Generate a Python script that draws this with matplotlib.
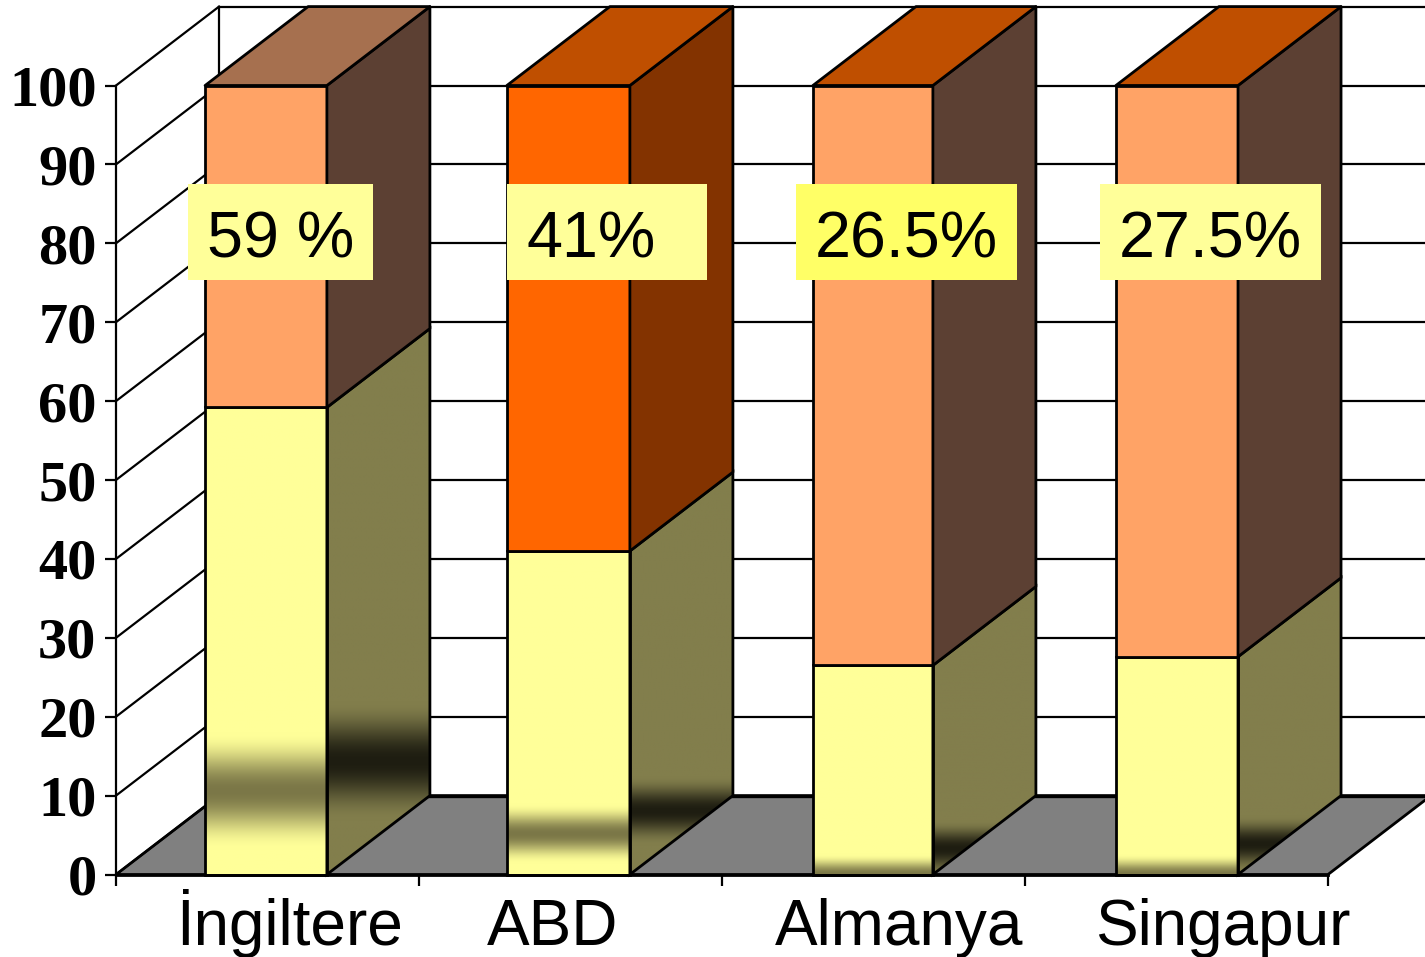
import matplotlib
matplotlib.use('Agg')
import matplotlib.pyplot as plt
from matplotlib.patches import Polygon, Rectangle
import numpy as np

countries = ['İngiltere', 'ABD', 'Almanya', 'Singapur']
share = [59.2, 41.0, 26.5, 27.6]
total = [100, 100, 100, 100]
share_text = ['59 %', '41%', '26.5%', '27.5%']
yticks = list(range(0, 101, 10))

# dark smudges in the yellow part: centre and half height, in axis units
front_band = [(10.6, 7.4), (5.2, 3.8), (0.0, 2.6), (0.0, 2.6)]
side_band = [(14.4, 7.6), (8.1, 4.4), (3.3, 3.6), (3.9, 3.6)]

W, H = 1425, 957
DEPTH_X = 0.34
DEPTH_Y = 10.0

bar_left = [0.294, 1.290, 2.300, 3.300]
bar_right = [0.696, 1.696, 2.696, 3.703]
label_x = [0.574, 1.442, 2.584, 3.653]

upper_front = ['#FFA366', '#FF6600', '#FFA366', '#FFA366']
upper_side = ['#5C4033', '#833300', '#5C4033', '#5C4033']
upper_top = ['#A6704F', '#BF4F00', '#BF4F00', '#BF4F00']
box_color = ['#FFFF99', '#FFFF99', '#FFFF66', '#FFFF99']
box_px = [(188, 373), (507, 707), (796, 1017), (1100, 1321)]
text_px = [207, 527, 815, 1119]

YELLOW = np.array([255, 255, 153]) / 255
YELLOW_DARK = np.array([123, 119, 71]) / 255
OLIVE = np.array([130, 126, 76]) / 255
OLIVE_DARK = np.array([30, 29, 17]) / 255


def gradient(top, band, base, dark):
    y = np.linspace(0, top, 400)
    w = np.clip(1 - np.abs(y - band[0]) / band[1], 0, 1)
    w = (0.5 - 0.5 * np.cos(np.pi * w))[:, None, None]
    return (base * (1 - w) + dark * w)


def face(ax, pts, color, z):
    ax.add_patch(Polygon(pts, closed=True, facecolor=color, edgecolor='black',
                         lw=2.0, joinstyle='round', clip_on=False, zorder=z))


def shaded(ax, fig, pts, extent, img, z):
    im = ax.imshow(img, extent=extent, origin='lower', aspect='auto',
                   interpolation='bilinear', zorder=z)
    clip = Polygon(pts, closed=True, transform=ax.transData)
    im.set_clip_box(fig.bbox)
    im.set_clip_path(clip)
    ax.add_patch(Polygon(pts, closed=True, fill=False, edgecolor='black',
                         lw=2.0, clip_on=False, zorder=z + 0.01))


fig = plt.figure(figsize=(W / 100, H / 100), dpi=100)
ax = fig.add_axes([116 / W, 1 - 874.5 / H, (1328 - 116) / W, (874 - 85) / H])
ax.patch.set_alpha(0)

# floor
ax.add_patch(Polygon([(0, 0), (4, 0), (4 + DEPTH_X, DEPTH_Y), (DEPTH_X, DEPTH_Y)],
                     closed=True, facecolor='#808080', edgecolor='black', lw=2.0,
                     clip_on=False, zorder=1))

# back wall and left wall
for v in yticks:
    ax.plot([DEPTH_X, 4 + DEPTH_X], [v + DEPTH_Y, v + DEPTH_Y], color='black',
            lw=2.4 if v == 0 else 1.6, clip_on=False, zorder=1.1)
    ax.plot([0, DEPTH_X], [v, v + DEPTH_Y], color='black', lw=1.6,
            clip_on=False, zorder=1.1)
ax.plot([DEPTH_X, DEPTH_X], [DEPTH_Y, 100 + DEPTH_Y], color='black', lw=1.6,
        clip_on=False, zorder=1.1)

for i in range(len(countries)):
    x0, x1 = bar_left[i], bar_right[i]
    v = share[i]
    t = total[i]
    z = 2 + i * 0.1
    xb = x1 + DEPTH_X
    # yellow part
    shaded(ax, fig, [(x0, 0), (x1, 0), (x1, v), (x0, v)], [x0, x1, 0, v],
           gradient(v, front_band[i], YELLOW, YELLOW_DARK), z)
    shaded(ax, fig, [(x1, 0), (xb, DEPTH_Y), (xb, v + DEPTH_Y), (x1, v)],
           [x1, xb, 0, v + DEPTH_Y],
           gradient(v + DEPTH_Y, side_band[i], OLIVE, OLIVE_DARK), z)
    # orange part
    face(ax, [(x0, v), (x1, v), (x1, t), (x0, t)], upper_front[i], z + 0.02)
    face(ax, [(x1, v), (xb, v + DEPTH_Y), (xb, t + DEPTH_Y), (x1, t)], upper_side[i], z + 0.02)
    face(ax, [(x0, t), (x1, t), (xb, t + DEPTH_Y), (x0 + DEPTH_X, t + DEPTH_Y)], upper_top[i], z + 0.02)

ax.set_xlim(0, 4)
ax.set_ylim(0, 100)
ax.set_xticks(range(5))
ax.set_xticklabels([])
ax.set_yticks(yticks)
ax.set_yticklabels([str(v) for v in yticks], family='Liberation Serif',
                   fontweight='bold', fontsize=42)
ax.tick_params(axis='both', length=8, width=1.6, color='black')
ax.tick_params(axis='y', pad=6)
ax.spines['top'].set_visible(False)
ax.spines['right'].set_visible(False)
ax.spines['left'].set_linewidth(1.6)
ax.spines['bottom'].set_linewidth(2.0)
ax.spines['bottom'].set_zorder(3)

for i, name in enumerate(countries):
    ax.text(label_x[i], -8.9, name, family='Liberation Sans', fontsize=46,
            ha='center', va='baseline', clip_on=False)

# percentage boxes
for i, txt in enumerate(share_text):
    left, right = box_px[i]
    ax.add_patch(Rectangle((left / W, 1 - 280 / H), (right - left) / W, 96 / H,
                           transform=fig.transFigure, facecolor=box_color[i],
                           edgecolor='none', clip_on=False, zorder=5))
    ax.text(text_px[i] / W, 1 - 257 / H, txt, transform=fig.transFigure,
            family='Liberation Sans', fontsize=46.5, ha='left', va='baseline', zorder=6)

fig.savefig('out.png', dpi=100)
